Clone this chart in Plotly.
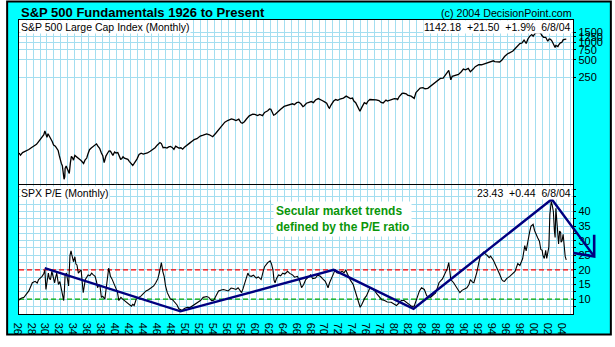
import plotly.graph_objects as go

# ---------------- data ----------------
spx_years = [1926.0, 1926.2, 1926.5, 1926.8, 1927.1, 1927.4, 1927.8, 1928.1, 1928.5, 1928.8,
             1929.1, 1929.3, 1929.55, 1929.7, 1929.85, 1930.0, 1930.15, 1930.35, 1930.5, 1930.75,
             1930.95, 1931.2, 1931.4, 1931.6, 1931.75, 1931.85, 1932.05, 1932.2, 1932.35, 1932.45,
             1932.55, 1932.6, 1932.75, 1932.9, 1933.05, 1933.2, 1933.35, 1933.5, 1933.65, 1933.8,
             1934.0, 1934.2, 1934.5, 1934.75, 1934.95, 1935.25, 1935.45, 1935.7, 1935.9, 1936.1,
             1936.35, 1936.6, 1936.85, 1937.1, 1937.3, 1937.55, 1937.8, 1938.0, 1938.2, 1938.3,
             1938.45, 1938.7, 1938.9, 1939.1, 1939.3, 1939.45, 1939.7, 1939.9, 1940.15, 1940.4,
             1940.55, 1940.7, 1940.9, 1941.1, 1941.35, 1941.6, 1941.8, 1941.95, 1942.15, 1942.3,
             1942.5, 1942.65, 1942.9, 1943.2, 1943.5, 1943.8, 1944.1, 1944.4, 1944.8, 1945.1,
             1945.5, 1945.8, 1946.0, 1946.2, 1946.4, 1946.65, 1946.9, 1947.2, 1947.45, 1947.7,
             1947.95, 1948.2, 1948.45, 1948.6, 1948.9, 1949.2, 1949.45, 1949.7, 1950.1, 1950.5,
             1950.8, 1951.1, 1951.5, 1951.98, 1952.4, 1952.9, 1953.3, 1953.76, 1954.2, 1954.57,
             1955.0, 1955.5, 1955.9, 1956.2, 1956.45, 1956.8, 1957.1, 1957.5, 1957.8, 1958.0,
             1958.3, 1958.6, 1959.0, 1959.5, 1959.8, 1960.2, 1960.5, 1960.9, 1961.2, 1961.65,
             1961.9, 1962.1, 1962.3, 1962.5, 1962.7, 1963.07, 1963.5, 1964.0, 1964.5, 1965.2,
             1965.45, 1965.8, 1966.1, 1966.4, 1966.7, 1966.85, 1967.2, 1967.55, 1967.9, 1968.2,
             1968.5, 1968.9, 1969.2, 1969.45, 1969.8, 1970.1, 1970.4, 1970.5, 1970.7, 1971.1,
             1971.4, 1971.7, 1972.0, 1972.5, 1972.9, 1973.2, 1973.5, 1973.8, 1974.0, 1974.26,
             1974.5, 1974.75, 1974.87, 1975.1, 1975.5, 1975.8, 1976.0, 1976.3, 1976.8, 1977.2,
             1977.6, 1977.9, 1978.2, 1978.6, 1978.8, 1979.1, 1979.5, 1979.8, 1980.2, 1980.25,
             1980.5, 1980.9, 1981.15, 1981.5, 1981.7, 1982.2, 1982.5, 1982.65, 1982.9, 1983.5,
             1983.9, 1984.2, 1984.6, 1985.0, 1985.5, 1985.9, 1986.4, 1986.8, 1987.3, 1987.6,
             1987.8, 1987.9, 1988.1, 1988.5, 1989.0, 1989.4, 1989.7, 1990.0, 1990.4, 1990.7,
             1990.85, 1991.1, 1991.4, 1991.9, 1992.3, 1992.6, 1993.0, 1993.5, 1994.0, 1994.2,
             1994.9, 1995.2, 1995.6, 1996.0, 1996.4, 1996.8, 1997.1, 1997.5, 1997.8, 1998.1,
             1998.4, 1998.6, 1998.7, 1998.95, 1999.2, 1999.5, 1999.7, 2000.0, 2000.2, 2000.6,
             2000.8, 2000.95, 2001.2, 2001.5, 2001.7, 2001.8, 2002.0, 2002.2, 2002.4, 2002.55,
             2002.7, 2002.85, 2002.95, 2003.1, 2003.25, 2003.4, 2003.6, 2003.8, 2004.0, 2004.2,
             2004.45]
spx_values = [12.0, 11.0, 12.2, 12.6, 13.0, 13.8, 15.0, 15.8, 17.0, 19.0,
              21.0, 22.3, 25.0, 29.0, 24.0, 22.5, 26.0, 24.0, 21.6, 19.0,
              16.5, 15.8, 14.5, 13.3, 11.0, 9.6, 8.0, 7.2, 5.5, 4.2,
              4.6, 6.5, 7.1, 6.4, 5.9, 5.3, 8.0, 10.5, 10.0, 9.0,
              10.9, 10.5, 9.8, 9.2, 8.7, 7.9, 9.0, 9.8, 11.8, 13.7,
              14.6, 15.6, 16.0, 17.3, 15.8, 14.5, 12.0, 10.8, 8.2, 9.0,
              10.6, 12.0, 13.0, 12.9, 11.4, 10.9, 12.5, 12.0, 12.2, 10.2,
              9.4, 9.5, 10.3, 9.8, 9.6, 9.3, 8.6, 8.1, 7.8, 7.3,
              7.9, 8.3, 9.4, 11.3, 11.9, 11.5, 11.8, 12.0, 12.9, 13.7,
              14.8, 16.4, 17.5, 18.2, 17.5, 14.8, 15.0, 14.6, 15.3, 15.6,
              15.0, 13.9, 15.8, 15.3, 14.6, 14.8, 14.0, 15.1, 16.8, 18.0,
              19.2, 20.5, 21.3, 23.6, 24.5, 25.8, 24.9, 23.0, 26.5, 29.9,
              36.0, 41.2, 44.0, 45.5, 46.8, 45.5, 44.0, 46.5, 40.5, 39.5,
              42.0, 46.8, 53.0, 57.0, 56.5, 53.6, 56.0, 53.6, 61.0, 65.0,
              70.0, 69.1, 63.0, 54.5, 56.0, 62.5, 69.0, 77.5, 81.0, 86.0,
              83.0, 90.0, 92.0, 86.0, 77.0, 78.7, 88.0, 92.0, 94.0, 90.0,
              100.0, 106.0, 103.0, 98.0, 93.0, 88.0, 74.0, 72.0, 81.0, 96.0,
              102.0, 99.0, 104.0, 108.0, 117.0, 112.0, 106.0, 108.0, 96.0, 90.0,
              80.0, 67.0, 64.0, 73.0, 90.0, 86.0, 95.0, 102.0, 103.0, 101.0,
              98.0, 91.0, 89.0, 100.0, 96.0, 100.0, 103.0, 106.0, 105.0, 100.0,
              115.0, 130.0, 131.0, 128.0, 122.0, 117.0, 109.0, 107.0, 135.0, 161.0,
              164.0, 157.0, 160.0, 175.0, 195.0, 208.0, 237.0, 240.0, 290.0, 328.0,
              255.0, 225.0, 258.0, 268.0, 278.0, 310.0, 345.0, 335.0, 355.0, 310.0,
              320.0, 345.0, 380.0, 410.0, 410.0, 420.0, 440.0, 450.0, 480.0, 465.0,
              458.0, 490.0, 570.0, 630.0, 665.0, 710.0, 780.0, 900.0, 955.0, 980.0,
              1100.0, 1010.0, 960.0, 1150.0, 1280.0, 1370.0, 1290.0, 1450.0, 1480.0, 1490.0,
              1430.0, 1320.0, 1230.0, 1230.0, 1130.0, 1050.0, 1150.0, 1130.0, 1060.0, 970.0,
              880.0, 820.0, 890.0, 860.0, 850.0, 920.0, 990.0, 1000.0, 1110.0, 1130.0,
              1142.18]

pe_years = [1926.0, 1926.3, 1926.7, 1927.0, 1927.4, 1927.7, 1927.9, 1928.3, 1928.6, 1928.8,
            1929.1, 1929.3, 1929.55, 1929.7, 1929.85, 1930.0, 1930.2, 1930.35, 1930.5, 1930.7,
            1930.9, 1931.1, 1931.25, 1931.4, 1931.55, 1931.65, 1931.85, 1932.0, 1932.2, 1932.4,
            1932.5, 1932.6, 1932.8, 1932.95, 1933.1, 1933.3, 1933.45, 1933.56, 1933.8, 1934.0,
            1934.15, 1934.3, 1934.5, 1934.7, 1934.9, 1935.05, 1935.2, 1935.35, 1935.5, 1935.7,
            1935.9, 1936.15, 1936.4, 1936.65, 1936.9, 1937.1, 1937.25, 1937.45, 1937.6, 1937.8,
            1938.0, 1938.3, 1938.5, 1938.7, 1938.85, 1939.0, 1939.1, 1939.3, 1939.45, 1939.7,
            1939.9, 1940.1, 1940.3, 1940.45, 1940.6, 1940.85, 1941.1, 1941.35, 1941.55, 1941.8,
            1942.1, 1942.3, 1942.5, 1942.8, 1943.1, 1943.5, 1943.85, 1944.2, 1944.55, 1944.9,
            1945.3, 1945.6, 1945.9, 1946.1, 1946.4, 1946.6, 1946.8, 1947.0, 1947.25, 1947.5,
            1947.7, 1948.0, 1948.4, 1948.65, 1948.9, 1949.15, 1949.4, 1949.7, 1950.1, 1950.5,
            1951.0, 1951.5, 1952.0, 1952.4, 1952.9, 1953.2, 1953.6, 1953.9, 1954.3, 1954.6,
            1955.0, 1955.3, 1956.0, 1956.4, 1956.7, 1957.1, 1957.4, 1957.9, 1958.1, 1958.35,
            1958.8, 1959.0, 1959.3, 1959.6, 1960.0, 1960.3, 1960.7, 1961.0, 1961.2, 1961.65,
            1962.0, 1962.2, 1962.4, 1962.55, 1962.7, 1962.9, 1963.2, 1963.5, 1963.8, 1964.1,
            1964.5, 1964.8, 1965.2, 1965.5, 1965.9, 1966.2, 1966.5, 1966.8, 1967.1, 1967.5,
            1967.8, 1968.1, 1968.5, 1968.8, 1969.2, 1969.5, 1969.9, 1970.1, 1970.3, 1970.5,
            1970.85, 1971.1, 1971.3, 1971.55, 1971.8, 1972.1, 1972.3, 1972.6, 1972.85, 1973.0,
            1973.2, 1973.5, 1973.9, 1974.15, 1974.4, 1974.65, 1974.9, 1975.1, 1975.35, 1975.6,
            1975.8, 1976.0, 1976.3, 1976.6, 1977.0, 1977.3, 1977.7, 1978.0, 1978.4, 1978.8,
            1979.35, 1979.7, 1980.1, 1980.4, 1980.8, 1981.2, 1981.5, 1981.9, 1982.3, 1982.65,
            1982.9, 1983.1, 1983.4, 1983.7, 1984.1, 1984.45, 1985.0, 1985.4, 1985.7, 1986.0,
            1986.2, 1986.7, 1987.15, 1987.4, 1987.6, 1987.75, 1987.9, 1988.3, 1988.8, 1989.2,
            1989.5, 1989.7, 1990.2, 1990.5, 1990.7, 1991.0, 1991.2, 1991.6, 1991.9, 1992.1,
            1992.4, 1992.6, 1992.9, 1993.1, 1993.4, 1993.6, 1994.0, 1994.3, 1994.55, 1994.9,
            1995.2, 1995.4, 1995.6, 1995.9, 1996.35, 1996.7, 1997.1, 1997.5, 1997.8, 1998.2,
            1998.5, 1998.7, 1998.95, 1999.2, 1999.4, 1999.7, 1999.9, 2000.1, 2000.35, 2000.6,
            2000.8, 2001.0, 2001.1, 2001.3, 2001.5, 2001.65, 2001.95, 2002.1, 2002.3, 2002.45,
            2002.6, 2002.75, 2002.85, 2002.96, 2003.1, 2003.2, 2003.35, 2003.5, 2003.65, 2003.7,
            2003.85, 2004.0, 2004.15, 2004.3, 2004.45]
pe_values = [9.7, 10.3, 10.6, 11.5, 12.8, 14.5, 15.6, 16.1, 15.5, 16.7,
             17.2, 17.8, 18.8, 20.0, 13.3, 16.0, 18.9, 17.0, 16.7, 19.5,
             17.0, 15.6, 17.5, 18.9, 16.5, 15.0, 16.0, 14.5, 12.0, 9.5,
             13.0, 18.3, 18.9, 16.0, 14.5, 25.0, 26.5, 25.2, 22.8, 24.5,
             22.0, 21.7, 18.9, 19.5, 20.0, 16.0, 12.2, 14.5, 16.7, 17.5,
             18.3, 18.0, 18.9, 18.3, 17.8, 16.0, 13.9, 15.0, 14.5, 10.6,
             11.0, 10.0, 14.5, 17.5, 20.6, 19.0, 17.8, 17.0, 16.1, 14.5,
             13.3, 12.5, 9.5, 10.3, 10.6, 10.0, 9.5, 9.3, 8.9, 8.3,
             7.6, 8.2, 7.8, 10.0, 10.4, 11.1, 12.0, 12.8, 13.2, 13.9,
             14.5, 15.6, 17.0, 18.9, 22.5, 19.5, 17.8, 14.5, 12.2, 11.0,
             10.0, 9.8, 8.9, 8.0, 6.7, 6.4, 6.1, 6.8, 7.2, 7.1,
             7.8, 8.7, 9.5, 10.6, 10.9, 10.6, 9.5, 9.6, 11.7, 12.8,
             13.1, 13.3, 12.8, 13.8, 13.6, 13.3, 13.9, 12.2, 13.5, 15.6,
             18.9, 18.0, 17.8, 18.2, 17.2, 17.6, 16.7, 19.5, 21.1, 22.5,
             23.1, 22.0, 20.0, 16.5, 15.6, 17.0, 18.3, 18.0, 18.9, 18.6,
             19.5, 18.8, 18.3, 17.5, 17.8, 16.5, 13.9, 15.0, 16.7, 17.6,
             18.3, 17.0, 17.2, 18.2, 17.8, 17.0, 16.1, 15.0, 13.9, 15.5,
             17.8, 18.8, 20.0, 19.0, 18.9, 19.2, 19.5, 19.0, 20.0, 19.0,
             17.8, 16.5, 15.0, 13.0, 11.1, 8.5, 7.2, 8.0, 9.5, 10.5,
             11.1, 12.5, 13.9, 13.5, 12.8, 11.8, 10.6, 9.8, 9.5, 9.0,
             8.9, 8.5, 7.8, 8.5, 9.5, 9.5, 9.0, 8.3, 7.5, 7.6,
             9.5, 10.5, 12.8, 13.9, 13.3, 11.1, 10.6, 11.5, 12.0, 14.0,
             15.6, 16.9, 18.9, 20.5, 22.5, 18.0, 16.7, 15.6, 13.9, 12.2,
             13.0, 13.3, 13.9, 15.0, 16.7, 15.8, 15.6, 18.9, 22.0, 24.5,
             25.5, 26.1, 25.3, 25.0, 24.2, 24.7, 23.3, 21.8, 20.6, 18.5,
             16.7, 16.2, 16.1, 17.0, 17.8, 18.5, 19.5, 22.2, 21.5, 23.9,
             28.3, 26.5, 30.6, 33.0, 35.0, 35.6, 33.5, 32.2, 31.0, 29.8,
             27.0, 26.7, 25.0, 23.9, 26.7, 23.9, 27.8, 39.0, 43.5, 42.0,
             40.0, 33.3, 31.1, 41.1, 36.7, 31.7, 28.9, 33.3, 32.8, 29.5,
             30.0, 32.2, 28.3, 24.5, 23.43]

# secular trend line (P/E) and its arrow head
trend_years = [1929.68, 1949.14, 1971.1, 1982.55, 2002.37, 2008.4]
trend_pe = [20.6, 5.8, 20.0, 6.7, 44.2, 24.8]
arrow_years = [2005.3, 2008.4, 2008.45, 2008.45]
arrow_pe = [25.9, 24.8, 24.6, 32.0]

pe_ref_levels = [20, 10]
pe_ref_colors = ["#FF0000", "#00AA00"]

year_ticks = list(range(1926, 2006))
year_labels = [("%02d" % (y % 100)) if y % 2 == 0 else "" for y in year_ticks]
spx_ticks = [250, 500, 750, 1000, 1250, 1500]
spx_labels = ["250", "500", "750", "1000", "1250", "1500"]
pe_ticks = [7.5, 10, 12.5, 15, 17.5, 20, 22.5, 25, 27.5, 30, 32.5, 35, 37.5, 40, 42.5, 45, 47.5]
pe_labels = ["", "10", "", "15", "", "20", "", "25", "", "30", "", "35", "", "40", "", "", ""]

# ---------------- layout geometry ----------------
W, H = 615, 347
ML, MR, MT, MB = 13, 15, 20, 25
PW = W - ML - MR          # 587
PH = H - MT - MB          # 302
PLOT_RIGHT = 574          # pixel where the panels end
XMAIN = (PLOT_RIGHT - ML) / PW
X0, X1 = 1925.99, 2005.46
PX_PER_YEAR = (PLOT_RIGHT - ML) / (X1 - X0)
X3_END = X1 + (W - MR - PLOT_RIGHT) / PX_PER_YEAR
TOP_DOM = [(H - MB - 188.5) / PH, 1.0]
BOT_DOM = [0.0, (H - MB - 189.5) / PH]


def px(x):
    return (x - ML) / PW


def py(y):
    return (H - MB - y) / PH


FONT = "Liberation Sans, Arial, sans-serif"
GRID = "#A3DEF0"
NAVY = "#000080"

fig = go.Figure()

fig.add_trace(go.Scatter(x=spx_years, y=spx_values, mode="lines",
                         line=dict(color="black", width=1.3), xaxis="x", yaxis="y",
                         hoverinfo="skip"))
for lvl, col in zip(pe_ref_levels, pe_ref_colors):
    fig.add_trace(go.Scatter(x=[X0, X1], y=[lvl, lvl], mode="lines",
                             line=dict(color=col, width=1.3, dash="5px,3px"),
                             xaxis="x2", yaxis="y2", hoverinfo="skip"))
fig.add_trace(go.Scatter(x=pe_years, y=pe_values, mode="lines",
                         line=dict(color="black", width=1.1), xaxis="x2", yaxis="y2",
                         hoverinfo="skip"))
fig.add_trace(go.Scatter(x=trend_years, y=trend_pe, mode="lines",
                         line=dict(color=NAVY, width=2.4), xaxis="x2", yaxis="y2",
                         hoverinfo="skip"))
# continuation of the trend outside the panel (arrow)
fig.add_trace(go.Scatter(x=trend_years[-2:], y=trend_pe[-2:], mode="lines",
                         line=dict(color=NAVY, width=2.4), xaxis="x3", yaxis="y3",
                         hoverinfo="skip"))
fig.add_trace(go.Scatter(x=arrow_years, y=arrow_pe, mode="lines",
                         line=dict(color=NAVY, width=2.6), xaxis="x3", yaxis="y3",
                         hoverinfo="skip"))

tickfont = dict(family=FONT, size=11, color="black")

fig.update_layout(
    width=W, height=H,
    margin=dict(l=ML, r=MR, t=MT, b=MB),
    paper_bgcolor="white",
    plot_bgcolor="rgba(0,0,0,0)",
    showlegend=False,
    xaxis=dict(domain=[0, XMAIN], range=[X0, X1], anchor="y",
               tickmode="array", tickvals=year_ticks, ticktext=year_labels,
               showticklabels=False, ticks="", showgrid=True, gridcolor=GRID, gridwidth=1,
               showline=True, linecolor="black", linewidth=1, mirror=True, zeroline=False),
    yaxis=dict(domain=TOP_DOM, type="log", range=[0.5398, 3.3909], anchor="x", side="right",
               tickmode="array", tickvals=spx_ticks, ticktext=spx_labels,
               ticks="outside", ticklen=2, tickcolor="black", tickfont=tickfont,
               showgrid=True, gridcolor=GRID, gridwidth=1,
               showline=True, linecolor="black", linewidth=1, mirror=True, zeroline=False),
    xaxis2=dict(domain=[0, XMAIN], range=[X0, X1], anchor="y2",
                tickmode="array", tickvals=year_ticks, ticktext=year_labels,
                ticks="", tickfont=tickfont, showgrid=True, gridcolor=GRID, gridwidth=1,
                showline=True, linecolor="black", linewidth=1, mirror=True, zeroline=False),
    yaxis2=dict(domain=BOT_DOM, range=[4.9, 49.07], anchor="x2", side="right",
                tickmode="array", tickvals=pe_ticks, ticktext=pe_labels,
                ticks="outside", ticklen=2, tickcolor="black", tickfont=tickfont,
                showgrid=True, gridcolor=GRID, gridwidth=1,
                showline=True, linecolor="black", linewidth=1, mirror=True, zeroline=False),
    xaxis3=dict(domain=[XMAIN, 1.0], range=[X1, X3_END], anchor="y3", visible=False),
    yaxis3=dict(domain=BOT_DOM, range=[4.9, 49.07], anchor="x3", visible=False),
)

shapes = [
    dict(type="rect", xref="paper", yref="paper", x0=px(1), x1=px(612), y0=py(343), y1=py(1),
         fillcolor="#00FFFF", line=dict(color="black", width=2), layer="below"),
    dict(type="rect", xref="x domain", yref="y domain", x0=0, x1=1, y0=0, y1=1,
         fillcolor="white", line=dict(width=0), layer="below"),
    dict(type="rect", xref="x2 domain", yref="y2 domain", x0=0, x1=1, y0=0, y1=1,
         fillcolor="white", line=dict(width=0), layer="below"),
]
fig.update_layout(shapes=shapes)

hdr = dict(family=FONT, size=10.5, color="black")
annotations = [
    dict(text="<b>S&P 500 Fundamentals 1926 to Present</b>", xref="paper", yref="paper",
         x=px(12.5), y=py(12), xanchor="left", yanchor="middle", showarrow=False,
         font=dict(family=FONT, size=13, color="black")),
    dict(text="(c) 2004 DecisionPoint.com", xref="paper", yref="paper",
         x=px(575), y=py(13), xanchor="right", yanchor="middle", showarrow=False,
         font=dict(family=FONT, size=10.7, color="black")),
    dict(text="S&P 500 Large Cap Index (Monthly)", xref="paper", yref="paper",
         x=px(14.5), y=py(20.5), xanchor="left", yanchor="top", showarrow=False,
         font=hdr, bgcolor="white", borderpad=0),
    dict(text="1142.18  +21.50  +1.9%  6/8/04", xref="paper", yref="paper",
         x=px(573), y=py(20.5), xanchor="right", yanchor="top", showarrow=False,
         font=hdr, bgcolor="white", borderpad=0),
    dict(text="SPX P/E (Monthly)", xref="paper", yref="paper",
         x=px(14.5), y=py(190.5), xanchor="left", yanchor="top", showarrow=False,
         font=hdr, bgcolor="white", borderpad=0),
    dict(text="23.43  +0.44  6/8/04", xref="paper", yref="paper",
         x=px(573), y=py(190.5), xanchor="right", yanchor="top", showarrow=False,
         font=hdr, bgcolor="white", borderpad=0),
    dict(text="<b>Secular market trends<br>defined by the P/E ratio</b>", xref="paper", yref="paper",
         x=px(270.5), y=py(224.2), xanchor="left", yanchor="middle", showarrow=False,
         align="left", font=dict(family=FONT, size=12, color="#0A960A"),
         bgcolor="white", borderpad=2),
]
fig.update_layout(annotations=annotations)

fig.write_html("out.html")
